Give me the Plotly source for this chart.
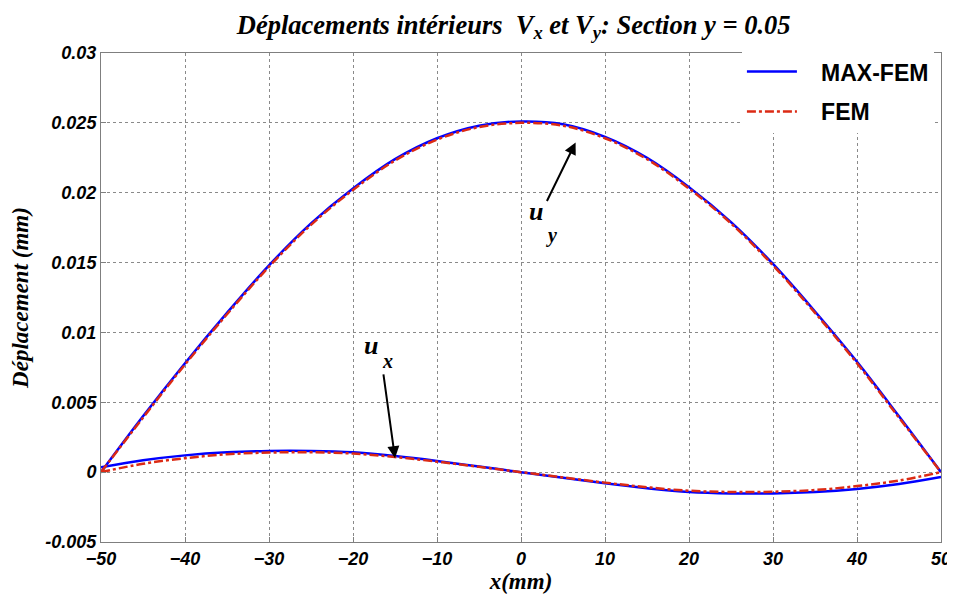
import plotly.graph_objects as go

# ---- data ----
x_pos = [-50, -45, -40, -35, -30, -25, -20, -15, -10, -5, 0, 5, 10, 15, 20, 25, 30, 35, 40, 45, 50]

uy_maxfem = [0.0000, 0.0040, 0.0078, 0.0114, 0.0148, 0.0178, 0.0203, 0.0224, 0.0239, 0.0248, 0.0251,
             0.0249, 0.0240, 0.0225, 0.0204, 0.0179, 0.0149, 0.0115, 0.0079, 0.0040, 0.0000]
uy_fem = [0.0000, 0.0039, 0.0077, 0.0113, 0.0147, 0.0177, 0.0202, 0.0223, 0.0238, 0.0247, 0.0250,
          0.0248, 0.0239, 0.0224, 0.0203, 0.0178, 0.0148, 0.0114, 0.0078, 0.0039, 0.0000]

ux_maxfem = [0.00035, 0.00085, 0.00120, 0.00142, 0.00152, 0.00152, 0.00142, 0.00115, 0.00080, 0.00040, 0.0000,
             -0.00040, -0.00080, -0.00115, -0.00142, -0.00152, -0.00152, -0.00142, -0.00120, -0.00085, -0.00035]
ux_fem = [0.00000, 0.00060, 0.00100, 0.00128, 0.00140, 0.00142, 0.00133, 0.00108, 0.00075, 0.00038, 0.0000,
          -0.00038, -0.00075, -0.00108, -0.00133, -0.00142, -0.00140, -0.00128, -0.00100, -0.00060, 0.00000]

x_ticks = [-50, -40, -30, -20, -10, 0, 10, 20, 30, 40, 50]
y_ticks = [-0.005, 0, 0.005, 0.01, 0.015, 0.02, 0.025, 0.03]
y_tick_text = ["-0.005", "0", "0.005", "0.01", "0.015", "0.02", "0.025", "0.03"]

series_names = ["MAX-FEM", "FEM"]

# annotation anchors (data coordinates): arrow head, arrow tail
uy_head = (6.5, 0.0236)
uy_tail = (3.0, 0.0193)
ux_head = (-15.0, 0.0010)
ux_tail = (-16.4, 0.0071)
uy_label = (1.8, 0.0175)
uy_sub = (3.6, 0.0160)
ux_label = (-17.8, 0.0079)
ux_sub = (-15.9, 0.0070)

BLUE = "#0000ff"
RED = "#dc2a14"
SERIF = "Liberation Serif"
SANS = "Liberation Sans"
PAD = "\u00a0" * 3

fig = go.Figure()

fig.add_trace(go.Scatter(x=x_pos, y=uy_maxfem, mode="lines", name=PAD + series_names[0], legendgroup="a",
                         line=dict(color=BLUE, width=2.5), line_shape="spline"))
fig.add_trace(go.Scatter(x=x_pos, y=ux_maxfem, mode="lines", showlegend=False, legendgroup="a",
                         line=dict(color=BLUE, width=2.5), line_shape="spline"))
fig.add_trace(go.Scatter(x=x_pos, y=uy_fem, mode="lines", name=PAD + series_names[1], legendgroup="b",
                         line=dict(color=RED, width=2.5, dash="dashdot"), line_shape="spline"))
fig.add_trace(go.Scatter(x=x_pos, y=ux_fem, mode="lines", showlegend=False, legendgroup="b",
                         line=dict(color=RED, width=2.5, dash="dashdot"), line_shape="spline"))

tickfont = dict(family=SANS, size=18, color="black", weight="bold", style="italic")
axis_common = dict(showgrid=True, gridcolor="#8a8a8a", griddash="dot", gridwidth=1,
                   showline=True, linecolor="#7f7f7f", linewidth=1, mirror=True,
                   ticks="inside", ticklen=5, tickcolor="#7f7f7f",
                   zeroline=False, tickfont=tickfont, automargin=False)

# the page adds an 8px body margin, so the figure is sized and offset to compensate
fig.update_layout(
    width=947, height=591,
    margin=dict(l=93, r=14, t=45, b=57, autoexpand=False),
    paper_bgcolor="white", plot_bgcolor="white",
    title=dict(text="Déplacements intérieurs  V<sub>x</sub> et V<sub>y</sub>: Section y = 0.05",
               x=0.534, xanchor="center", y=0.972, yanchor="middle",
               font=dict(family=SERIF, size=26.5, color="black", weight="bold", style="italic")),
    xaxis=dict(range=[-50, 50], tickvals=x_ticks,
               title=dict(text="x(mm)", standoff=0,
                          font=dict(family=SERIF, size=23, color="black", weight="bold", style="italic")),
               **axis_common),
    yaxis=dict(range=[-0.005, 0.03], tickvals=y_ticks, ticktext=y_tick_text,
               title=dict(text="Déplacement (mm)", standoff=12,
                          font=dict(family=SERIF, size=23, color="black", weight="bold", style="italic")),
               **axis_common),
    legend=dict(x=0.763, y=1.006, xanchor="left", yanchor="top",
                bgcolor="white", borderwidth=0, itemwidth=50, tracegroupgap=7,
                traceorder="grouped",
                font=dict(family=SANS, size=23, color="black", weight="bold")),
    showlegend=True,
)

# arrows
for head, tail in [(uy_head, uy_tail), (ux_head, ux_tail)]:
    fig.add_annotation(x=head[0], y=head[1], ax=tail[0], ay=tail[1], axref="x", ayref="y",
                       xref="x", yref="y", text="", showarrow=True, arrowhead=2,
                       arrowsize=1.2, arrowwidth=2, arrowcolor="black")

lab_font = dict(family=SERIF, size=26, color="black", weight="bold", style="italic")
sub_font = dict(family=SERIF, size=20, color="black", weight="bold", style="italic")
for pos, txt, fnt in [(uy_label, "u", lab_font), (uy_sub, "y", sub_font),
                      (ux_label, "u", lab_font), (ux_sub, "x", sub_font)]:
    fig.add_annotation(x=pos[0], y=pos[1], text=txt, showarrow=False, font=fnt,
                       xanchor="center", yanchor="bottom")

fig.write_html("out.html")
